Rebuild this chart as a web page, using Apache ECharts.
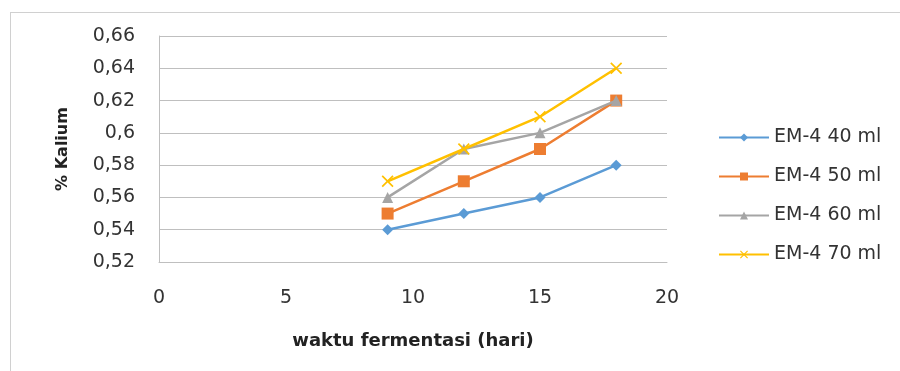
<!DOCTYPE html>
<html><head><meta charset="utf-8">
<script src="https://cdn.jsdelivr.net/npm/echarts@6/dist/echarts.min.js"></script>
<style>html,body{margin:0;padding:0;background:#fff}#frame{position:absolute;left:10px;top:12px;width:900px;height:400px;border:1px solid #d0d0d0;box-sizing:border-box}#c{position:absolute;left:0;top:0;width:900px;height:371px}</style>
</head><body><div id="frame"></div><div id="c"></div>
<script>
const days = [9, 12, 15, 18];
const seriesNames = ['EM-4 40 ml', 'EM-4 50 ml', 'EM-4 60 ml', 'EM-4 70 ml'];
const em40 = [0.54, 0.55, 0.56, 0.58];
const em50 = [0.55, 0.57, 0.59, 0.62];
const em60 = [0.56, 0.59, 0.60, 0.62];
const em70 = [0.57, 0.59, 0.61, 0.64];
const xTicks = [0, 5, 10, 15, 20];
const yTicks = [0.52, 0.54, 0.56, 0.58, 0.60, 0.62, 0.64, 0.66];

const colors = ['#5B9BD5', '#ED7D31', '#A5A5A5', '#FFC000'];
const symbols = ['diamond', 'rect', 'triangle', 'path://M0,1L1,0L5,4L9,0L10,1L6,5L10,9L9,10L5,6L1,10L0,9L4,5Z'];
const sizes = [11, 12, 11, 12];
const allData = [em40, em50, em60, em70];
const font = 'DejaVu Sans, sans-serif';

const chart = echarts.init(document.getElementById('c'), null, {renderer: 'canvas'});
chart.setOption({
  animation: false,
  grid: {left: 159, right: 233, top: 36, bottom: 109},
  legend: {
    orient: 'vertical', left: 718, top: 128, itemGap: 20, padding: 0,
    itemWidth: 50, itemHeight: 10,
    textStyle: {fontFamily: font, fontSize: 19, color: '#333'},
    data: seriesNames
  },
  xAxis: {
    type: 'value', min: xTicks[0], max: xTicks[xTicks.length - 1], interval: 5,
    name: 'waktu fermentasi (hari)', nameLocation: 'middle', nameGap: 70,
    nameTextStyle: {fontFamily: font, fontSize: 18, fontWeight: 'bold', color: '#222'},
    axisLine: {show: true, lineStyle: {color: '#bfbfbf'}},
    axisTick: {show: false},
    splitLine: {show: false},
    axisLabel: {fontFamily: font, fontSize: 19, color: '#333', margin: 27}
  },
  yAxis: {
    type: 'value', min: yTicks[0], max: yTicks[yTicks.length - 1], interval: 0.02,
    name: '% Kalium', nameLocation: 'middle', nameGap: 88, nameRotate: 90,
    nameTextStyle: {fontFamily: font, fontSize: 16, fontWeight: 'bold', color: '#222'},
    axisLine: {show: true, lineStyle: {color: '#bfbfbf'}},
    axisTick: {show: false},
    splitLine: {show: true, lineStyle: {color: '#bfbfbf', width: 1}},
    axisLabel: {fontFamily: font, fontSize: 19, color: '#333', margin: 24,
      formatter: v => String(Math.round(v * 100) / 100).replace('.', ',')}
  },
  series: seriesNames.map((n, i) => ({
    name: n, type: 'line',
    data: days.map((d, j) => [d, allData[i][j]]),
    symbol: symbols[i], symbolSize: sizes[i],
    showAllSymbol: true,
    lineStyle: {color: colors[i], width: 2.5},
    itemStyle: {color: colors[i]},
    z: 2 + i
  }))
});
</script></body></html>
